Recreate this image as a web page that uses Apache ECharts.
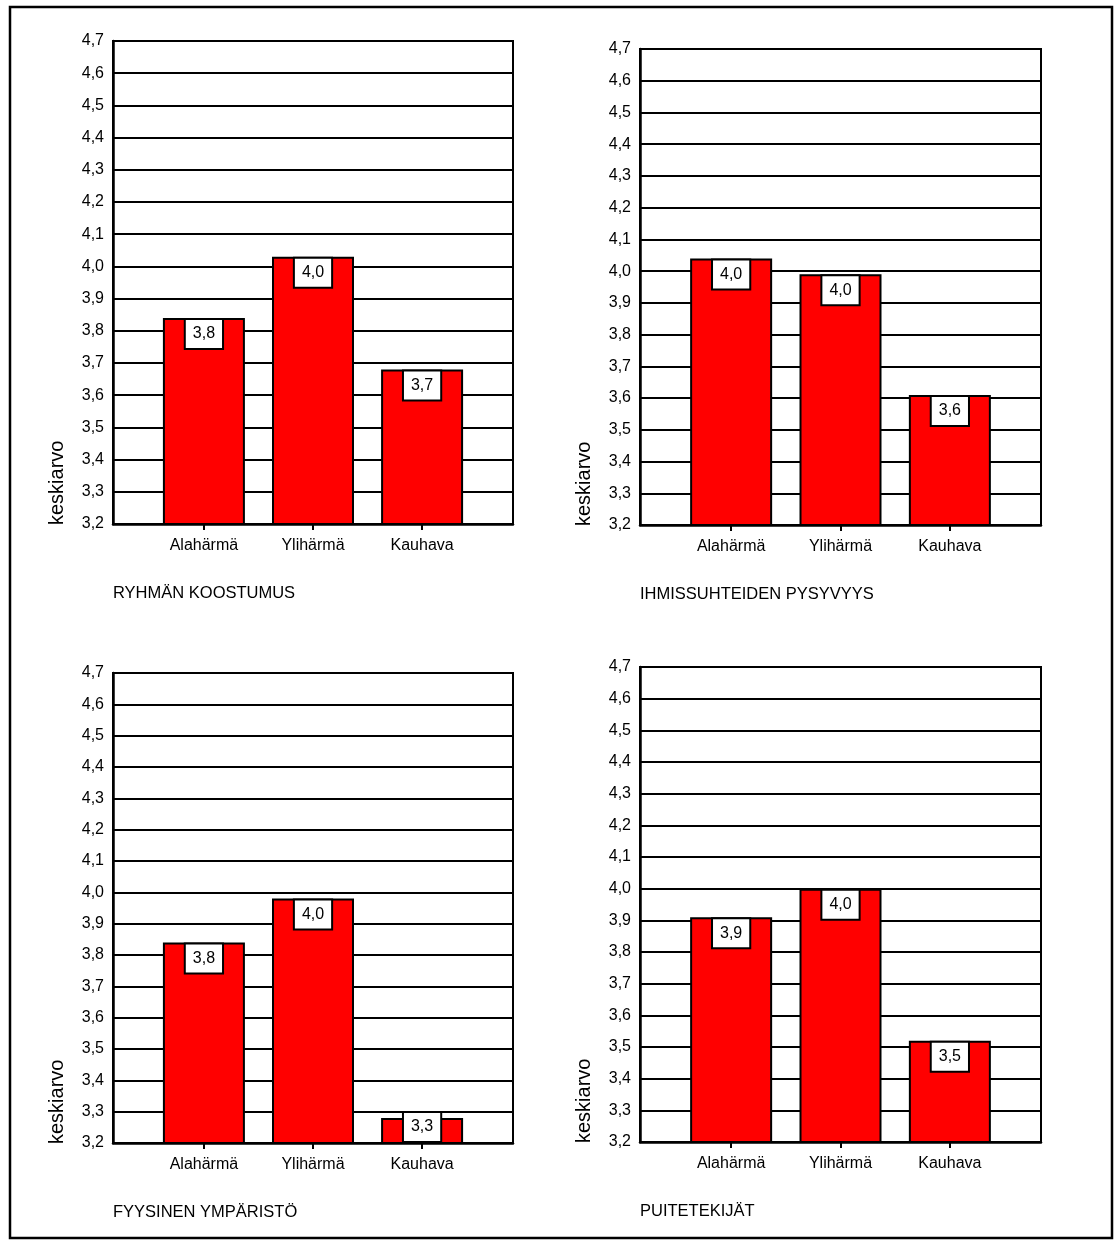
<!DOCTYPE html>
<html>
<head>
<meta charset="utf-8">
<script src="https://cdn.jsdelivr.net/npm/echarts@6/dist/echarts.min.js"></script>
<style>
  html, body { margin: 0; padding: 0; background: #fff; }
  #chart { width: 1116px; height: 1247px; }
</style>
</head>
<body>
<div id="chart"></div>
<script>
// Keskiarvot kunnittain, neljä osa-aluetta
const categories = ['Alahärmä', 'Ylihärmä', 'Kauhava'];
const ryhmanKoostumus = [3.84, 4.03, 3.68];
const ihmissuhteidenPysyvyys = [4.04, 3.99, 3.61];
const fyysinenYmparisto = [3.84, 3.98, 3.28];
const puitetekijat = [3.91, 4.00, 3.52];
const panelTitles = ['RYHMÄN KOOSTUMUS', 'IHMISSUHTEIDEN PYSYVYYS', 'FYYSINEN YMPÄRISTÖ', 'PUITETEKIJÄT'];
const yAxisName = 'keskiarvo';
const yMin = 3.2, yMax = 4.7, yStep = 0.1;

const panels = [ryhmanKoostumus, ihmissuhteidenPysyvyys, fyysinenYmparisto, puitetekijat];

const FONT = "'Liberation Sans', Arial, sans-serif";
const comma = v => v.toFixed(1).replace('.', ',');

// plot rectangles: [left, top, right, bottom] in page pixels
const rects = [
  [113, 41, 513, 524],
  [640, 49, 1041, 525],
  [113, 673, 513, 1143],
  [640, 667, 1041, 1142]
];
const W = 1116, H = 1247;

// value box: 16px text + padding 6 top/bottom + border
const LABEL_DIST = 2, LABEL_BOX_H = 30;

const grids = [], xAxes = [], yAxes = [], series = [], titles = [], graphics = [];

rects.forEach((r, i) => {
  const plotH = r[3] - r[1];
  grids.push({
    left: r[0], top: r[1], right: W - r[2], bottom: H - r[3],
    show: true, backgroundColor: '#fff', borderColor: '#000', borderWidth: 2
  });
  xAxes.push({
    gridIndex: i, type: 'value', min: 1 / 6, max: 23 / 6,
    axisLine: { show: true, lineStyle: { color: '#000', width: 2.5 } },
    axisTick: { show: true, customValues: [1, 2, 3], length: 6, lineStyle: { color: '#000', width: 2 } },
    axisLabel: {
      show: true, customValues: [1, 2, 3], margin: 14,
      formatter: v => categories[Math.round(v) - 1] || '',
      color: '#000', fontSize: 16, fontFamily: FONT
    },
    splitLine: { show: false }
  });
  yAxes.push({
    gridIndex: i, type: 'value', min: yMin, max: yMax, interval: yStep,
    axisLine: { show: true, lineStyle: { color: '#000', width: 2.5 } },
    axisTick: { show: false },
    axisLabel: { color: '#000', fontSize: 16, fontFamily: FONT, margin: 9, formatter: comma },
    splitLine: { show: true, lineStyle: { color: '#000', width: 2 } }
  });
  series.push({
    type: 'bar', xAxisIndex: i, yAxisIndex: i, barWidth: 82,
    clip: true,
    itemStyle: { color: '#ff0000', borderColor: '#000', borderWidth: 2 },
    label: {
      show: true, position: 'insideTop', distance: LABEL_DIST,
      formatter: p => comma(p.value[1]),
      color: '#000', fontSize: 16, fontFamily: FONT, lineHeight: 16,
      backgroundColor: '#fff', borderColor: '#000', borderWidth: 2, padding: [6, 7]
    },
    data: panels[i].map((v, k) => {
      const item = { value: [k + 1, v] };
      // short bars: lift the value box so it stays inside the plot
      const barH = (v - yMin) / (yMax - yMin) * plotH;
      const overflow = LABEL_DIST + LABEL_BOX_H - barH;
      if (overflow > 0) item.label = { offset: [0, -overflow] };
      return item;
    })
  });
  titles.push({
    text: panelTitles[i], left: r[0], top: r[3] + 61, padding: 0,
    textStyle: { color: '#000', fontSize: 16.5, fontWeight: 'normal', fontFamily: FONT }
  });
  graphics.push({
    type: 'text', x: r[0] - 56, y: r[3] + 1, rotation: Math.PI / 2,
    style: { text: yAxisName, fill: '#000', font: '20px ' + FONT, textAlign: 'left', textVerticalAlign: 'middle' }
  });
});

// page frame
graphics.push({
  type: 'rect', shape: { x: 10, y: 7, width: 1102, height: 1231 },
  style: { fill: null, stroke: '#000', lineWidth: 2.5 }, z: 100
});

const chart = echarts.init(document.getElementById('chart'), null, { renderer: 'canvas' });
chart.setOption({
  backgroundColor: '#fff',
  animation: false,
  title: titles,
  grid: grids,
  xAxis: xAxes,
  yAxis: yAxes,
  series: series,
  graphic: graphics
});
</script>
</body>
</html>
